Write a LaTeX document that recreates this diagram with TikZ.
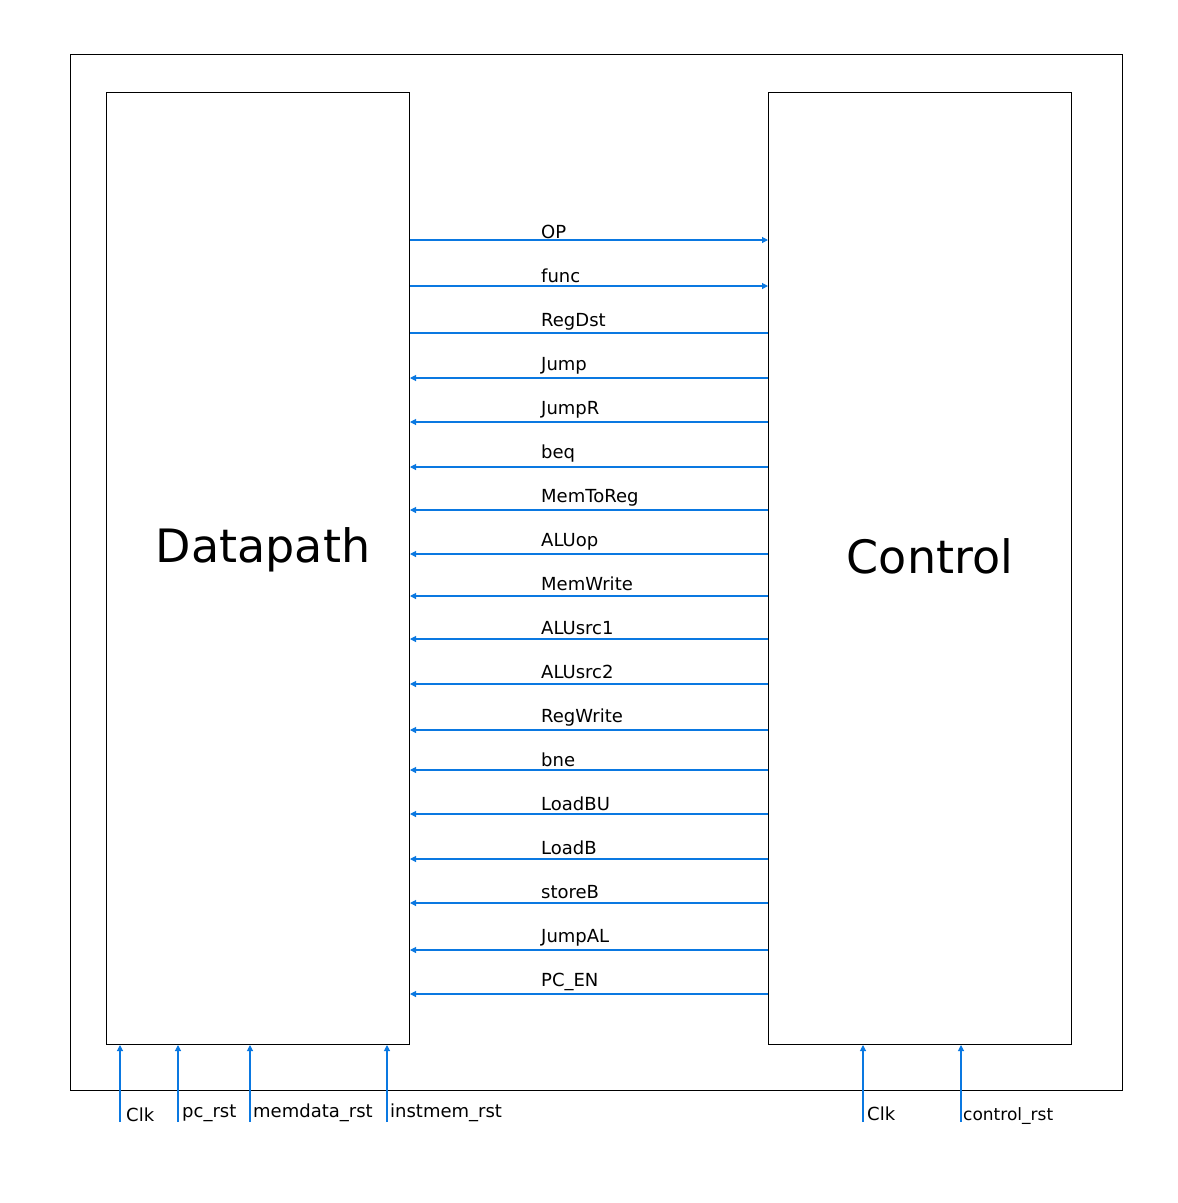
\documentclass[tikz,border=0pt]{standalone}
\usepackage{fontspec}
\setmainfont{DejaVu Sans}
\usetikzlibrary{arrows.meta, positioning, calc}
\definecolor{sigblue}{RGB}{10,120,225}
\tikzset{
  block/.style={draw=black, line width=1pt, minimum width=303pt, minimum height=952pt, inner sep=0pt},
  sig/.style={draw=sigblue, line width=1.1pt},
  sigtip/.style={-{Triangle[length=6pt, width=6pt]}},
  siglabel/.style={anchor=base west, inner sep=0pt, font=\fontsize{18}{21}\selectfont}
}
\begin{document}
\begin{tikzpicture}[x=1pt, y=-1pt]
  \useasboundingbox (0,0) rectangle (1178,1203);
  % Outer frame
  \draw[line width=1pt] (70,54) rectangle (1122,1090);
  % Blocks
  \node[block, anchor=north west] (dp) at (106,92) {};
  \node[block, anchor=north west] (ctrl) at (768,92) {};
  \node (dplabel) at (263,550) {\fontsize{46}{55}\selectfont Datapath};
  \node (ctrllabel) at (930,556) {\fontsize{46}{55}\selectfont Control};
  % Datapath -> Control
  \foreach \name/\y/\ly in {OP/240/238, func/286/282}{
    \coordinate (s\name) at (dp.east |- 0,\y);
    \draw[sig, sigtip] (s\name) -- (ctrl.west |- s\name);
    \node[siglabel] at (541,\ly) {\name};
  }
  % RegDst: no tip
  \coordinate (sRegDst) at (dp.east |- 0,333);
  \draw[sig] (sRegDst) -- (ctrl.west |- sRegDst);
  \node[siglabel] at (541,326) {RegDst};
  % Control -> Datapath
  \foreach \name/\txt/\y/\ly in {Jump/Jump/378/370, JumpR/JumpR/422/414, beq/beq/467/458,
      MemToReg/MemToReg/510/502, ALUop/ALUop/554/546, MemWrite/MemWrite/596/590,
      ALUsrcA/ALUsrc1/639/634, ALUsrcB/ALUsrc2/684/678, RegWrite/RegWrite/730/722,
      bne/bne/770/766, LoadBU/LoadBU/814/810, LoadB/LoadB/859/854,
      storeB/storeB/903/898, JumpAL/JumpAL/950/942, PCEN/PC\_EN/994/986}{
    \coordinate (s\name) at (ctrl.west |- 0,\y);
    \draw[sig, sigtip] (s\name) -- (dp.east |- s\name);
    \node[siglabel] at (541,\ly) {\txt};
  }
  % Inputs at the bottom
  \foreach \name/\x/\lx/\txt/\ly in {clkdp/120/126/Clk/1121, pcrst/178/182/pc\_rst/1117,
      memrst/250/253/memdata\_rst/1117, instrst/387/390/instmem\_rst/1117}{
    \coordinate (\name) at (\x,1122);
    \draw[sig, sigtip] (\name) -- (dp.south -| \name);
    \node[siglabel] at (\lx,\ly) {\txt};
  }
  \coordinate (clkctrl) at (863,1122);
  \draw[sig, sigtip] (clkctrl) -- (ctrl.south -| clkctrl);
  \node[siglabel] at (867,1120) {Clk};
  \coordinate (ctrlrst) at (961,1122);
  \draw[sig, sigtip] (ctrlrst) -- (ctrl.south -| ctrlrst);
  \node[siglabel, font=\fontsize{17}{20}\selectfont] at (963,1120) {control\_rst};
\end{tikzpicture}
\end{document}
